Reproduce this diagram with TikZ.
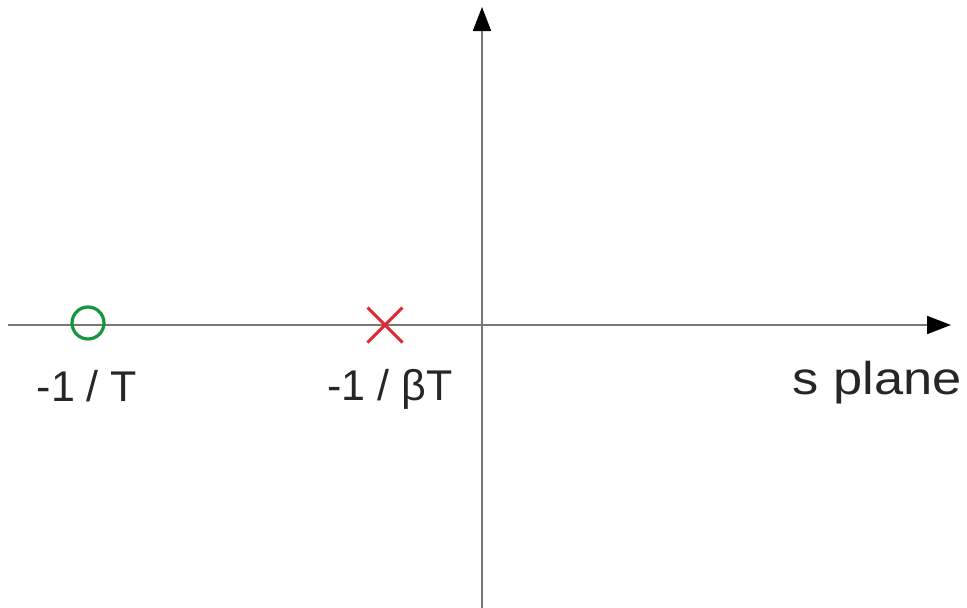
\documentclass[tikz,border=0pt]{standalone}
\usepackage{fontspec}
\setmainfont{Liberation Sans}
\usetikzlibrary{arrows.meta,shapes.misc}
\definecolor{axisgray}{RGB}{120,120,120}
\definecolor{zerogreen}{RGB}{20,150,60}
\definecolor{polered}{RGB}{225,40,50}
\begin{document}
\begin{tikzpicture}[x=1pt,y=-1pt,
  axis/.style={draw=axisgray,line width=1.8pt,-{Triangle[length=24pt,width=18pt,color=black,fill=black]}},
  zeromark/.style={circle,draw=zerogreen,line width=3.2pt,minimum size=32pt,inner sep=0pt},
  polemark/.style={cross out,draw=polered,line width=3pt,minimum size=32pt,inner sep=0pt},
  lbl/.style={font=\fontsize{43}{50}\selectfont,inner sep=0pt,text=black!85,anchor=base}]
\useasboundingbox (0,0) rectangle (967,608);
\coordinate (xl) at (8,325);
\coordinate (xr) at (951,325);
\coordinate (yb) at (482,612);
\coordinate (yt) at (482,7);
\draw[axis] (xl) -- (xr);
\draw[axis] (yb) -- (yt);
\node[zeromark] (zero) at (88,323) {};
\node[polemark] (pole) at (385,325) {};
\node[lbl] (zl) at (87,401) {-1 / T};
\node[lbl] (pl) at (390,400) {-1 / βT};
\node[lbl,font=\fontsize{46}{52}\selectfont,xscale=1.14,transform shape] (sp) at (877,394) {s plane};
\end{tikzpicture}
\end{document}
